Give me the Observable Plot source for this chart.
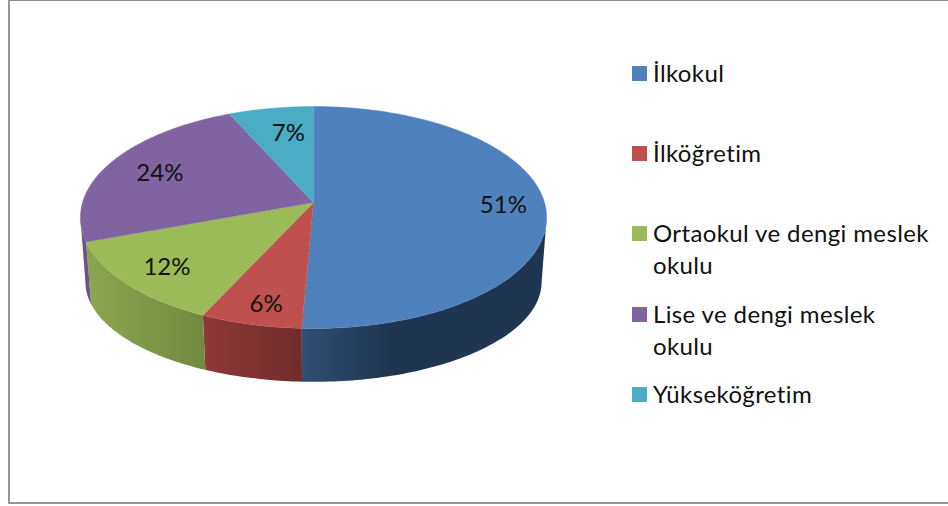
<!DOCTYPE html>
<html lang="tr">
<head>
<meta charset="utf-8">
<script src="https://cdn.jsdelivr.net/npm/d3@7"></script>
<script src="https://cdn.jsdelivr.net/npm/@observablehq/plot@0.6"></script>
<style>
  html, body { margin: 0; padding: 0; background: #fff; }
  #page { position: relative; width: 948px; height: 506px; overflow: hidden; font-family: Lato, "Noto Sans", sans-serif; }
  #frame { position: absolute; left: 8px; top: 0; width: 960px; height: 501px; border: 2px solid #969696; border-top: 1px solid #8c8c8c; box-sizing: content-box; }
  #chart { position: absolute; left: 0; top: 0; }
  #chart svg { background: transparent; display: block; }
  .item { position: absolute; left: 632px; width: 310px; font-size: 24px; letter-spacing: 0.38px; line-height: 32px; color: #111; padding-left: 21px; box-sizing: border-box; }
  .swatch { position: absolute; left: 0; top: 9px; width: 15px; height: 15px; }
</style>
</head>
<body>
<div id="page">
  <div id="frame"></div>
  <div id="chart"></div>
  <div id="legend"></div>
</div>
<script>
const categories = ["İlkokul", "İlköğretim", "Ortaokul ve dengi meslek okulu", "Lise ve dengi meslek okulu", "Yükseköğretim"];
const shares = [50.7, 6.2, 12.49, 23.9, 6.71];
const colors = ["#4f81bd", "#c0504d", "#9bbb59", "#8064a2", "#4bacc6"];
const sideDark = ["#1f3550", "#6f2c2b", "#71893f", "#6a5388", "#3a8ba1"];
const sideLight = ["#2f4f73", "#8e3a38", "#8ca650", "#6a5388", "#3a8ba1"];
const labelRadius = [0.82, 0.84, 0.8, 0.75, 0.71];
const labelAt = [0.5, 0.45, 0.5, 0.5, 0.6];
const legendTops = [57, 137, 217, 298, 378];
const legendLines = [["İlkokul"], ["İlköğretim"], ["Ortaokul ve dengi meslek", "okulu"], ["Lise ve dengi meslek", "okulu"], ["Yükseköğretim"]];

// perspective of the tilted disc, in units of the disc radius
const persp = 0.135;
const rim = {sx: 226 / 231, sy: 98 / 109, dy: 66 / 109};
const project = (theta, r = 1) => {
  const u = r * Math.sin(theta), v = -r * Math.cos(theta), s = 1 / (1 - persp * v);
  return {x: u * s, y: v * s};
};
// the wall is seen only between the two widest points of the disc
const wallStart = Math.acos(-persp);
const wallEnd = 2 * Math.PI - wallStart;

const total = d3.sum(shares);
let cum = 0;
const slices = categories.map((name, i) => {
  const a0 = cum / total * 2 * Math.PI;
  cum += shares[i];
  const a1 = cum / total * 2 * Math.PI;
  return {name, i, a0, a1};
});
const arc = (a0, a1) => {
  const n = Math.max(2, Math.ceil((a1 - a0) / (Math.PI / 180)));
  return d3.range(n + 1).map(k => a0 + (a1 - a0) * k / n);
};
const faces = slices.flatMap(s => [
  {name: s.name, x: 0, y: 0},
  ...arc(s.a0, s.a1).map(t => ({name: s.name, ...project(t)}))
]);
const walls = slices.filter(s => s.a1 > wallStart && s.a0 < wallEnd);
const sidePolygon = s => {
  const pts = arc(Math.max(s.a0, wallStart), Math.min(s.a1, wallEnd));
  return [
    ...pts.map(t => project(t)),
    ...pts.slice().reverse().map(t => {
      const p = project(t);
      return {x: p.x * rim.sx, y: p.y * rim.sy + rim.dy};
    })
  ];
};
const labels = slices.map(s => {
  const at = s.a0 + (s.a1 - s.a0) * labelAt[s.i];
  return {...project(at, labelRadius[s.i]), text: Math.round(shares[s.i]) + "%"};
});

const defs = () => {
  const d = d3.create("svg:defs");
  slices.forEach(s => {
    const g = d.append("linearGradient").attr("id", "side" + s.i);
    if (s.i === 0) {
      g.append("stop").attr("offset", "0").attr("stop-color", sideLight[0]);
      g.append("stop").attr("offset", "0.36").attr("stop-color", sideDark[0]);
      g.append("stop").attr("offset", "1").attr("stop-color", sideDark[0]);
    } else {
      g.append("stop").attr("offset", "0").attr("stop-color", sideLight[s.i]);
      g.append("stop").attr("offset", "1").attr("stop-color", sideDark[s.i]);
    }
  });
  return d.node();
};

const chart = Plot.plot({
  width: 948,
  height: 506,
  margin: 0,
  x: {domain: [-1, 1], range: [82, 544], axis: null},
  y: {domain: [-1, 1], range: [93, 311], axis: null},
  color: {domain: categories, range: colors},
  style: {background: "transparent"},
  marks: [
    defs,
    ...walls.map(s => Plot.line(sidePolygon(s), {
      x: "x", y: "y", fill: `url(#side${s.i})`, stroke: "none"
    })),
    Plot.line(faces, {x: "x", y: "y", z: "name", fill: "name", stroke: "name", strokeWidth: 0.4}),
    Plot.text(labels, {x: "x", y: "y", dy: 1, text: "text", fontSize: 24, fill: "#111", fontFamily: "Lato, 'Noto Sans', sans-serif"})
  ]
});
document.getElementById("chart").appendChild(chart);

const legend = document.getElementById("legend");
categories.forEach((name, i) => {
  const item = document.createElement("div");
  item.className = "item";
  item.style.top = legendTops[i] + "px";
  const sw = document.createElement("span");
  sw.className = "swatch";
  sw.style.background = colors[i];
  item.appendChild(sw);
  legendLines[i].forEach((line, k) => {
    if (k) item.appendChild(document.createElement("br"));
    item.appendChild(document.createTextNode(line));
  });
  legend.appendChild(item);
});
</script>
</body>
</html>
